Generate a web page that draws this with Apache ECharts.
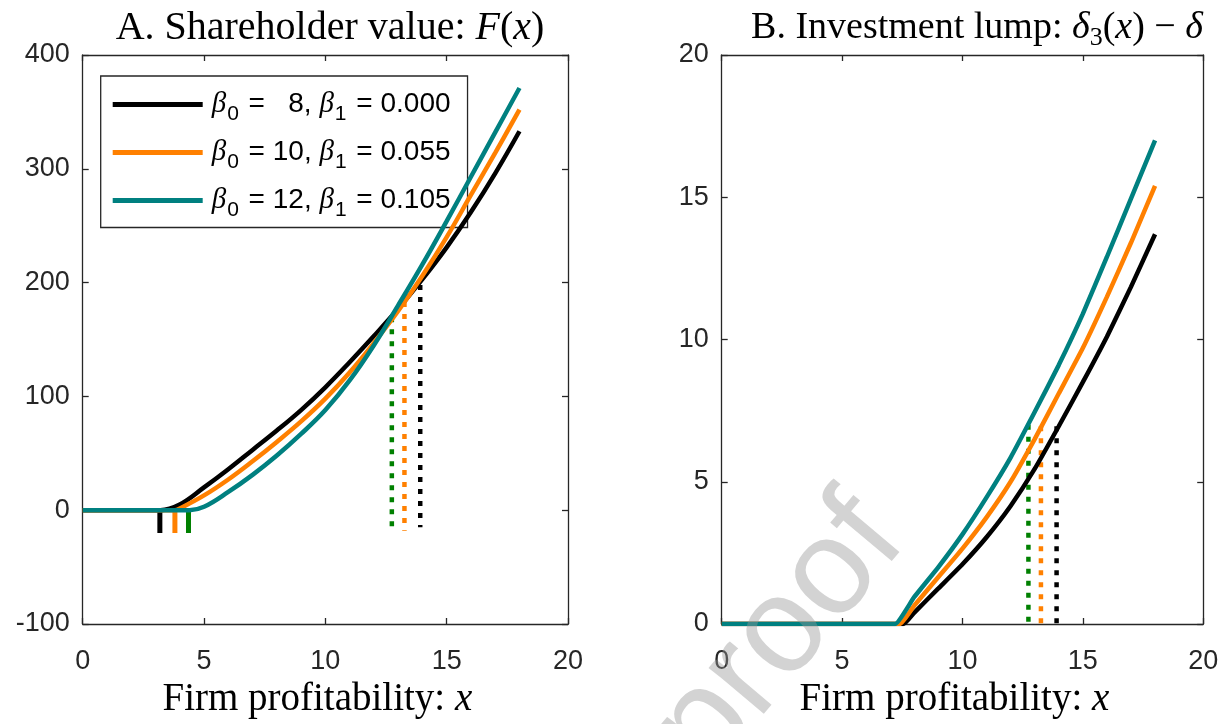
<!DOCTYPE html>
<html><head><meta charset="utf-8">
<script src="https://cdn.jsdelivr.net/npm/echarts@6/dist/echarts.min.js"></script>
<style>html,body{margin:0;padding:0;background:#fff}#c{width:1228px;height:724px}</style>
</head><body><div id="c"></div>
<script>
// ---- data ----
const beta0 = [8, 10, 12];
const beta1 = ['0.000', '0.055', '0.105'];
const seriesNames = ['β0 = 8, β1 = 0.000', 'β0 = 10, β1 = 0.055', 'β0 = 12, β1 = 0.105'];
const lineColors = ['#000000', '#ff8000', '#008080'];
const markColors = ['#000000', '#ff8000', '#008000'];

// Panel A: shareholder value F(x)
const xA = [0,1,2,3,4,5,6,7,8,9,10,11,12,13,14,15,16,17,18];
const kinkA = [3.2, 3.8, 4.4];
const fBlack  = [0,0,0,0,5,20,36,53,70,88,108,130,153,177,203,231,262,296,333];
const fOrange = [0,0,0,0,1.5,13,27,43,60,78,98,121,147,175,206,240,277,314,352];
const fTeal   = [0,0,0,0,0,3,16,31,48,67,88,114,145,180,216,254,293,332,371];

// Panel B: investment lump delta3(x) - delta
const xB = [0,1,2,3,4,5,6,7,8,9,10,11,12,13,14,15,16,17,18];
const kinkB = [7.55, 7.4, 7.2];
const dBlack  = [0,0,0,0,0,0,0,0,0.4,1.25,2.1,3.05,4.15,5.45,6.95,8.5,10.1,11.85,13.7];
const dOrange = [0,0,0,0,0,0,0,0,0.65,1.65,2.65,3.75,5.0,6.5,8.1,9.7,11.5,13.4,15.4];
const dTeal   = [0,0,0,0,0,0,0,0,0.95,2.0,3.15,4.45,5.85,7.45,9.1,10.9,12.9,14.95,17.0];

// thresholds (dotted) and lower boundaries (solid ticks)
const cutX    = [13.91, 13.26, 12.74];
const cutTopA = [198, 183, 169.5];
const cutBotA = [-15, -18, -20];
const cutTopB = [6.95, 6.95, 7.0];
const cutBotB = [0, 0, 0];
const lowX    = [3.18, 3.8, 4.36];
const lowTop  = 0;
const lowBot  = -20;

// ---- build ----
function curve(xs, vals, kink) {
  const pts = [];
  xs.forEach((x, i) => { if (x < kink) pts.push([x, vals[i]]); });
  pts.push([kink, 0]);
  xs.forEach((x, i) => { if (x > kink) pts.push([x, vals[i]]); });
  return pts;
}
const A = [fBlack, fOrange, fTeal];
const B = [dBlack, dOrange, dTeal];

const axisCol = '#262626';
const lab = {fontFamily: 'Liberation Sans', fontSize: 27, color: axisCol};
const serif = 'Liberation Serif';

function xAx(grid, pos, show) {
  return {
    type: 'value', gridIndex: grid, position: pos, min: 0, max: 20, interval: 5,
    axisLine: {show: true, onZero: false, lineStyle: {color: axisCol, width: 1.3}},
    axisTick: {show: true, inside: true, length: 6, lineStyle: {color: axisCol, width: 1.3}},
    axisLabel: show ? Object.assign({margin: 24}, lab) : {show: false},
    splitLine: {show: false},
    name: show ? '{r|Firm profitability: }{i|x}' : '',
    nameLocation: 'middle', nameGap: 56,
    nameTextStyle: {padding: [0, 16, 0, 0], rich: {
      r: {fontFamily: serif, fontSize: 39, color: '#000'},
      i: {fontFamily: serif, fontStyle: 'italic', fontSize: 39, color: '#000'}
    }}
  };
}
function yAx(grid, pos, show, min, max, interval) {
  return {
    type: 'value', gridIndex: grid, position: pos, min: min, max: max, interval: interval,
    axisLine: {show: true, onZero: false, lineStyle: {color: axisCol, width: 1.3}},
    axisTick: {show: true, inside: true, length: 6, lineStyle: {color: axisCol, width: 1.3}},
    axisLabel: show ? Object.assign({margin: 13}, lab) : {show: false},
    splitLine: {show: false}
  };
}

const series = [];
[0,1,2].forEach(i => series.push({
  name: seriesNames[i], type: 'line', xAxisIndex: 0, yAxisIndex: 0,
  data: curve(xA, A[i], kinkA[i]), showSymbol: false, smooth: 0.4,
  lineStyle: {color: lineColors[i], width: 4.5}, itemStyle: {color: lineColors[i]}, z: 5 + i
}));
[0,1,2].forEach(i => series.push({
  name: seriesNames[i], type: 'line', xAxisIndex: 2, yAxisIndex: 2,
  data: curve(xB, B[i], kinkB[i]), showSymbol: false, smooth: 0.15,
  lineStyle: {color: lineColors[i], width: 4.5}, itemStyle: {color: lineColors[i]}, z: 5 + i
}));
[0,1,2].forEach(i => {
  series.push({
    type: 'line', xAxisIndex: 0, yAxisIndex: 0, showSymbol: false, silent: true,
    data: [[cutX[i], cutTopA[i]], [cutX[i], cutBotA[i]]],
    lineStyle: {color: markColors[i], width: 4.5, type: [5, 7], cap: 'butt'}, z: 4
  });
  series.push({
    type: 'line', xAxisIndex: 2, yAxisIndex: 2, showSymbol: false, silent: true,
    data: [[cutX[i], cutTopB[i]], [cutX[i], cutBotB[i]]],
    lineStyle: {color: markColors[i], width: 4.5, type: [5, 7], cap: 'butt'}, z: 4
  });
  series.push({
    type: 'line', xAxisIndex: 0, yAxisIndex: 0, showSymbol: false, silent: true,
    data: [[lowX[i], lowTop], [lowX[i], lowBot]],
    lineStyle: {color: markColors[i], width: 5, cap: 'butt'}, z: 4
  });
});

function titleRich(fs) {
  return {
    r: {fontFamily: serif, fontWeight: 'normal', fontSize: fs, color: '#000', lineHeight: 46},
    i: {fontFamily: serif, fontWeight: 'normal', fontStyle: 'italic', fontSize: fs, color: '#000', lineHeight: 46},
    s: {fontFamily: serif, fontWeight: 'normal', fontSize: 26, color: '#000', lineHeight: 26, verticalAlign: 'bottom'}
  };
}

const option = {
  animation: false,
  backgroundColor: '#fff',
  title: [
    {text: '{r|A. Shareholder value: }{i|F}{r|(}{i|x}{r|)}', left: 325, top: 0, textAlign: 'center',
     textStyle: {fontWeight: 'normal', rich: titleRich(40)}},
    {text: '{r|B. Investment lump: }{i|δ}{s|3}{r|(}{i|x}{r|) − }{i|δ}', left: 972, top: 0, textAlign: 'center',
     textStyle: {fontWeight: 'normal', rich: titleRich(38)}}
  ],
  grid: [
    {left: 82.7, top: 55, width: 485.3, height: 572},
    {left: 721.7, top: 55, width: 481.5, height: 572}
  ],
  xAxis: [xAx(0, 'bottom', true), xAx(0, 'top', false), xAx(1, 'bottom', true), xAx(1, 'top', false)],
  yAxis: [yAx(0, 'left', true, -100, 400, 100), yAx(0, 'right', false, -100, 400, 100),
          yAx(1, 'left', true, 0, 20, 5), yAx(1, 'right', false, 0, 20, 5)],
  legend: {
    data: seriesNames, orient: 'vertical', left: 100.7, top: 76,
    padding: [14, 17, 7, 12], itemGap: 13.5, itemWidth: 90, itemHeight: 5, icon: 'rect',
    backgroundColor: '#fff', borderColor: axisCol, borderWidth: 1.3,
    selectedMode: false,
    formatter: function (name) {
      const i = seriesNames.indexOf(name);
      const n = beta0[i] < 10 ? '  ' + beta0[i] : String(beta0[i]);
      return '{g|β}{s|0}{t| = ' + n + ', }{g|β}{s|1}{t| = ' + beta1[i] + '}';
    },
    textStyle: {
      padding: [0, 0, 0, 4],
      rich: {
        g: {fontFamily: serif, fontStyle: 'italic', fontSize: 29, color: '#000', lineHeight: 40},
        s: {fontFamily: 'Liberation Sans', fontSize: 21, color: '#000', lineHeight: 20, verticalAlign: 'bottom', padding: [0, 2, 0, 1]},
        t: {fontFamily: 'Liberation Sans', fontSize: 28, color: '#000', lineHeight: 40}
      }
    }
  },
  graphic: [{
    type: 'text', x: 780, y: 636, rotation: 50 * Math.PI / 180, z: 100, silent: true,
    style: {text: 'proof', fontFamily: 'Liberation Sans', fontSize: 136,
            fill: 'rgba(150,150,150,0.42)', align: 'center', verticalAlign: 'middle'}
  }],
  series: series
};
const chart = echarts.init(document.getElementById('c'), null, {renderer: 'canvas'});
chart.setOption(option);
</script></body></html>
